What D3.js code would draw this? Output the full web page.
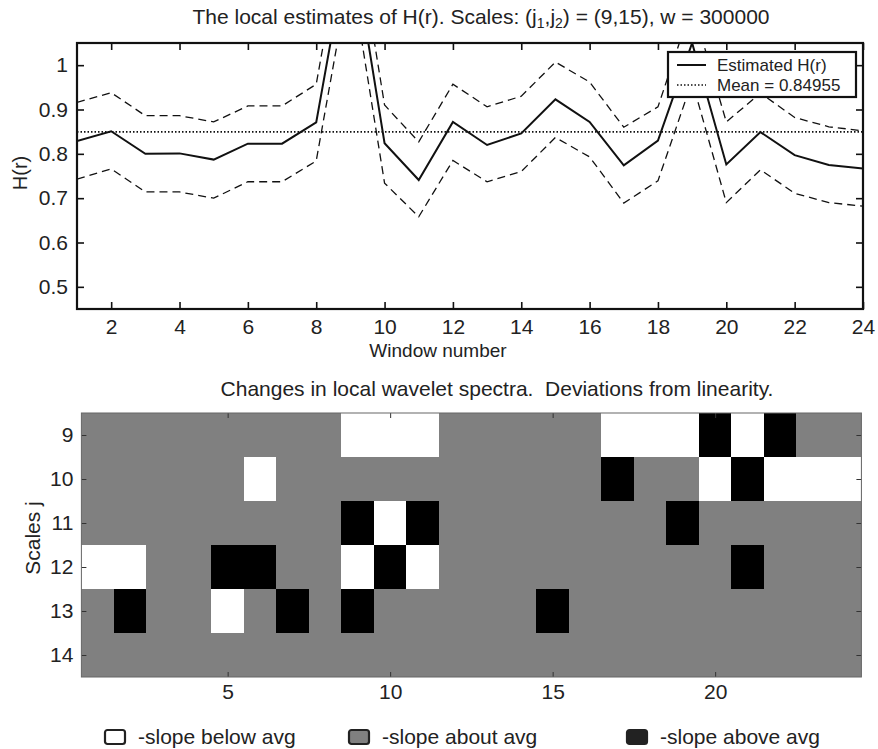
<!DOCTYPE html>
<html>
<head>
<meta charset="utf-8" />
<title>Local estimates of H(r)</title>
<style>
html, body {
    margin: 0;
    padding: 0;
    background: #fff;
}
svg {
    display: block;
    font-family: "Liberation Sans", Arial, Helvetica, sans-serif;
}
</style>
</head>
<body>
<div id="chart"></div>
<script src="https://cdnjs.cloudflare.com/ajax/libs/d3/7.8.5/d3.min.js"></script>
<script>
// top panel: local Hurst estimates per window
var windows = [1,2,3,4,5,6,7,8,9,10,11,12,13,14,15,16,17,18,19,20,21,22,23,24]
var hEst  = [0.829,0.851,0.800,0.801,0.787,0.823,0.823,0.871,1.300,0.824,0.741,0.872,0.820,0.846,0.923,0.872,0.774,0.830,1.050,0.776,0.849,0.797,0.775,0.767]
var hUp   = [0.916,0.938,0.886,0.886,0.872,0.908,0.908,0.957,1.386,0.910,0.827,0.957,0.906,0.930,1.007,0.962,0.860,0.906,1.136,0.872,0.937,0.882,0.861,0.852]
var hLow  = [0.743,0.766,0.714,0.714,0.700,0.737,0.737,0.784,1.214,0.734,0.658,0.785,0.737,0.760,0.837,0.793,0.689,0.739,0.964,0.690,0.764,0.711,0.690,0.682]
var hMean = 0.84955
var topXTicks = [2,4,6,8,10,12,14,16,18,20,22,24]
var topYTicks = [0.5,0.6,0.7,0.8,0.9,1]

// bottom panel: -1 slope below avg, 0 about avg, 1 above avg
var scales = [9,10,11,12,13,14]
var row9  = [0,0,0,0,0,0,0,0,-1,-1,-1,0,0,0,0,0,-1,-1,-1,1,-1,1,0,0]
var row10 = [0,0,0,0,0,-1,0,0,0,0,0,0,0,0,0,0,1,0,0,-1,1,-1,-1,-1]
var row11 = [0,0,0,0,0,0,0,0,1,-1,1,0,0,0,0,0,0,0,1,0,0,0,0,0]
var row12 = [-1,-1,0,0,1,1,0,0,-1,1,-1,0,0,0,0,0,0,0,0,0,1,0,0,0]
var row13 = [0,1,0,0,-1,0,1,0,1,0,0,0,0,0,1,0,0,0,0,0,0,0,0,0]
var row14 = [0,0,0,0,0,0,0,0,0,0,0,0,0,0,0,0,0,0,0,0,0,0,0,0]
var botXTicks = [5,10,15,20]
var legendLabels = ["-slope below avg", "-slope about avg", "-slope above avg"]

var W = 878, H = 749
var svg = d3.select("#chart").append("svg").attr("width", W).attr("height", H)

// ---------- top plot ----------
var x = d3.scaleLinear().domain([1, 24]).range([77, 863])
var y = d3.scaleLinear().domain([0.45, 1.05]).range([309, 43])

svg.append("clipPath").attr("id", "clipTop")
    .append("rect")
    .attr("x", x.range()[0]).attr("y", y.range()[1])
    .attr("width", x.range()[1] - x.range()[0])
    .attr("height", y.range()[0] - y.range()[1])

var plot = svg.append("g").attr("clip-path", "url(#clipTop)")

var line = function(vals) {
    return d3.line()
        .x(function(d, i) { return x(windows[i]) })
        .y(function(d) { return y(d) })(vals)
}

plot.append("path").attr("d", line(hUp))
    .attr("fill", "none").attr("stroke", "#111").attr("stroke-width", 1.3)
    .attr("stroke-dasharray", "8,5")
plot.append("path").attr("d", line(hLow))
    .attr("fill", "none").attr("stroke", "#111").attr("stroke-width", 1.3)
    .attr("stroke-dasharray", "8,5")
plot.append("line")
    .attr("x1", x(1)).attr("x2", x(24))
    .attr("y1", y(hMean)).attr("y2", y(hMean))
    .attr("stroke", "#111").attr("stroke-width", 1.6)
    .attr("stroke-dasharray", "1.5,2")
plot.append("path").attr("d", line(hEst))
    .attr("fill", "none").attr("stroke", "#111").attr("stroke-width", 2)

function styleAxis(g, fontSize) {
    g.select(".domain").remove()
    g.selectAll("line").attr("stroke", "#111").attr("stroke-width", 1.6)
    g.selectAll("text").attr("fill", "#222").style("font-size", fontSize + "px")
        .style("font-family", "'Liberation Sans', Arial, sans-serif")
}

svg.append("g").attr("transform", "translate(0," + y.range()[0] + ")")
    .call(d3.axisBottom(x).tickValues(topXTicks).tickSize(-7).tickPadding(10))
    .call(styleAxis, 21)
svg.append("g").attr("transform", "translate(0," + y.range()[1] + ")")
    .call(d3.axisTop(x).tickValues(topXTicks).tickSize(-7).tickFormat(""))
    .call(styleAxis, 21)
svg.append("g").attr("transform", "translate(" + x.range()[0] + ",0)")
    .call(d3.axisLeft(y).tickValues(topYTicks).tickSize(-7).tickPadding(9).tickFormat(d3.format("")))
    .call(styleAxis, 21)
svg.append("g").attr("transform", "translate(" + x.range()[1] + ",0)")
    .call(d3.axisRight(y).tickValues(topYTicks).tickSize(-7).tickFormat(""))
    .call(styleAxis, 21)

svg.append("rect")
    .attr("x", x.range()[0]).attr("y", y.range()[1])
    .attr("width", x.range()[1] - x.range()[0])
    .attr("height", y.range()[0] - y.range()[1])
    .attr("fill", "none").attr("stroke", "#111").attr("stroke-width", 2.2)

// legend of top plot
var lg = svg.append("g")
lg.append("rect").attr("x", 668).attr("y", 52).attr("width", 188).attr("height", 45)
    .attr("fill", "#fff").attr("stroke", "#111").attr("stroke-width", 2.2)
lg.append("line").attr("x1", 677).attr("x2", 706).attr("y1", 65).attr("y2", 65)
    .attr("stroke", "#111").attr("stroke-width", 2)
lg.append("line").attr("x1", 677).attr("x2", 706).attr("y1", 85).attr("y2", 85)
    .attr("stroke", "#111").attr("stroke-width", 1.6).attr("stroke-dasharray", "1.5,2")
lg.append("text").attr("x", 717).attr("y", 71).style("font-size", "17px").attr("fill", "#222")
    .text("Estimated H(r)")
lg.append("text").attr("x", 717).attr("y", 91).style("font-size", "17px").attr("fill", "#222")
    .text("Mean = " + hMean)

// titles and labels
var t1 = svg.append("text").attr("x", 481).attr("y", 24).attr("text-anchor", "middle")
    .style("font-size", "21px").attr("fill", "#222")
t1.append("tspan").text("The local estimates of H(r). Scales: (j")
t1.append("tspan").attr("baseline-shift", "-25%").style("font-size", "14px").text("1")
t1.append("tspan").text(",j")
t1.append("tspan").attr("baseline-shift", "-25%").style("font-size", "14px").text("2")
t1.append("tspan").text(") = (9,15), w = 300000")

svg.append("text").attr("x", 438).attr("y", 357).attr("text-anchor", "middle")
    .style("font-size", "19px").attr("fill", "#222").text("Window number")
svg.append("text").attr("transform", "translate(27,173) rotate(-90)")
    .attr("text-anchor", "middle").style("font-size", "20px").attr("fill", "#222").text("H(r)")

// ---------- bottom heatmap ----------
var bx = d3.scaleLinear().domain([0.5, 24.5]).range([81.4, 861.4])
var by = d3.scaleLinear().domain([8.5, 14.5]).range([413, 677])
var colour = d3.scaleOrdinal().domain([-1, 0, 1]).range(["#ffffff", "#808080", "#000000"])

var grid = [row9, row10, row11, row12, row13, row14]
var cells = []
grid.forEach(function(row, r) {
    row.forEach(function(v, c) {
        cells.push({ j: scales[r], w: windows[c], v: v })
    })
})

// gray backing so no seams show between cells
svg.append("rect")
    .attr("x", bx.range()[0]).attr("y", by.range()[0])
    .attr("width", bx.range()[1] - bx.range()[0])
    .attr("height", by.range()[1] - by.range()[0])
    .attr("fill", colour(0))

svg.append("g").attr("shape-rendering", "crispEdges")
    .selectAll("rect").data(cells.filter(function(d) { return d.v !== 0 })).enter().append("rect")
    .attr("x", function(d) { return bx(d.w - 0.5) })
    .attr("y", function(d) { return by(d.j - 0.5) })
    .attr("width", function(d) { return bx(d.w + 0.5) - bx(d.w - 0.5) })
    .attr("height", function(d) { return by(d.j + 0.5) - by(d.j - 0.5) })
    .attr("fill", function(d) { return colour(d.v) })

function styleAxis2(g) {
    g.select(".domain").remove()
    g.selectAll("line").attr("stroke", "#333").attr("stroke-width", 1)
    g.selectAll("text").attr("fill", "#222").style("font-size", "21px")
        .style("font-family", "'Liberation Sans', Arial, sans-serif")
}

svg.append("g").attr("transform", "translate(0," + by.range()[1] + ")")
    .call(d3.axisBottom(bx).tickValues(botXTicks).tickSize(-5).tickPadding(7))
    .call(styleAxis2)
svg.append("g").attr("transform", "translate(0," + by.range()[0] + ")")
    .call(d3.axisTop(bx).tickValues(botXTicks).tickSize(-5).tickFormat(""))
    .call(styleAxis2)
svg.append("g").attr("transform", "translate(" + bx.range()[0] + ",0)")
    .call(d3.axisLeft(by).tickValues(scales).tickSize(-5).tickPadding(8).tickFormat(d3.format("d")))
    .call(styleAxis2)
svg.append("g").attr("transform", "translate(" + bx.range()[1] + ",0)")
    .call(d3.axisRight(by).tickValues(scales).tickSize(-5).tickFormat(""))
    .call(styleAxis2)

svg.append("rect")
    .attr("x", bx.range()[0]).attr("y", by.range()[0])
    .attr("width", bx.range()[1] - bx.range()[0])
    .attr("height", by.range()[1] - by.range()[0])
    .attr("fill", "none").attr("stroke", "#666").attr("stroke-width", 1)

svg.append("text").attr("x", 497).attr("y", 396).attr("text-anchor", "middle")
    .style("font-size", "21px").attr("fill", "#222")
    .text("Changes in local wavelet spectra.\u00a0 Deviations from linearity.")
svg.append("text").attr("transform", "translate(40,538) rotate(-90)")
    .attr("text-anchor", "middle").style("font-size", "21px").attr("fill", "#222").text("Scales j")

// bottom legend
var legendX = [104, 348, 626]
var legendFill = [colour(-1), colour(0), "#222"]
var bl = svg.append("g").selectAll("g").data(legendLabels).enter().append("g")
    .attr("transform", function(d, i) { return "translate(" + legendX[i] + ",729)" })
bl.append("rect").attr("x", 1).attr("y", 1).attr("width", 20).attr("height", 14)
    .attr("rx", 2.5)
    .attr("fill", function(d, i) { return legendFill[i] })
    .attr("stroke", "#222").attr("stroke-width", 2.2)
bl.append("text").attr("x", 34).attr("y", 15)
    .style("font-size", "21px").attr("fill", "#222")
    .text(function(d) { return d })
</script>
</body>
</html>
